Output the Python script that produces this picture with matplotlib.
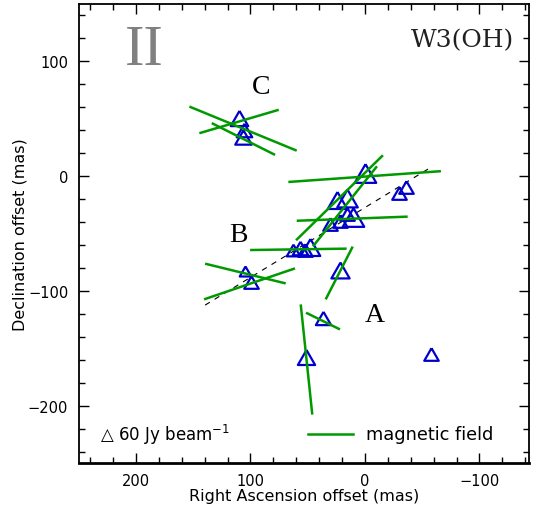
import matplotlib.pyplot as plt
from matplotlib.lines import Line2D

# maser spots: RA offset, Dec offset (mas), peak flux (Jy/beam)
ra = [109.9, 105.6, 106.9,
      0.0, -35.5, -29.7, 24.7, 15.7, 16.0, 10.5, 30.5, 21.8,
      62.8, 56.7, 52.4, 48.0, 104.7, 99.7,
      21.8, 36.9, 51.5, -57.6]
dec = [50.5, 40.1, 34.4,
       3.1, -9.9, -14.9, -21.0, -19.3, -33.2, -35.4, -42.0, -39.1,
       -64.2, -62.9, -64.7, -61.6, -83.0, -92.1,
       -82.1, -123.4, -157.5, -155.4]
flux = [70, 62, 66, 86, 58, 58, 78, 82, 58, 86, 58, 58,
        54, 62, 58, 78, 46, 58, 73, 61, 69, 58]

# magnetic field segments (x1, y1, x2, y2) in mas
bfield = [
    (153.3, 60.6, 59.6, 22.2),
    (144.6, 37.4, 75.3, 57.8),
    (133.8, 46.2, 78.5, 18.5),
    (66.9, -5.1, -66.3, 4.3),
    (59.6, -38.9, -37.3, -35.3),
    (60.2, -55.9, -15.7, 18.2),
    (45.4, -61.2, -10.5, 8.6),
    (100.3, -64.4, 16.0, -63.2),
    (139.6, -76.3, 69.2, -93.5),
    (140.5, -107.4, 61.1, -80.4),
    (34.3, -107.4, 10.7, -61.4),
    (56.1, -111.8, 46.0, -207.8),
    (51.5, -119.0, 21.8, -133.6),
]

# linear fit through the spots
fit_x = [139.6, -57.3]
fit_y = [-112.4, 7.5]

groups = {"A": (-8.5, -120.9), "B": (110.2, -51.1), "C": (90.7, 78.4)}

green = "#009a00"
blue = "#0000cc"

fig = plt.figure(figsize=(5.36, 5.10), dpi=100)
ax = fig.add_axes([0.1468, 0.0902, 0.8396, 0.900])

ax.plot(fit_x, fit_y, color="black", lw=0.8, dashes=(5, 5), zorder=1)

tri = [(0, 0.87), (-1, -0.87), (1, -0.87), (0, 0.87)]
for x, y, f in zip(ra, dec, flux):
    ms = f / 4.0 * 0.72
    ax.plot(x, y, marker=tri, ms=ms, mfc="none", mec=blue, mew=1.6,
            ls="none", zorder=2)

for x1, y1, x2, y2 in bfield:
    ax.plot([x1, x2], [y1, y2], color=green, lw=1.8, zorder=3,
            solid_capstyle="butt")

for name, (x, y) in groups.items():
    ax.text(x, y, name, fontsize=20, family="Liberation Serif",
            ha="center", va="center")

ax.text(193.0, 109.7, "II", fontsize=42, family="Liberation Serif",
        color="#808080", ha="center", va="center")
ax.text(-85.5, 119.0, "W3(OH)", fontsize=18, family="DejaVu Serif",
        color="#202020", ha="center", va="center")

# legend row at the bottom
ax.text(0.047, 0.063, "\u25b3 60 Jy beam$^{-1}$", transform=ax.transAxes,
        fontsize=12, ha="left", va="center")
ax.add_line(Line2D([0.510, 0.610], [0.063, 0.063], transform=ax.transAxes,
                   color=green, lw=1.8))
ax.text(0.638, 0.063, "magnetic field", transform=ax.transAxes,
        fontsize=12.8, ha="left", va="center")

ax.set_xlim(250, -143)
ax.set_ylim(-250, 150)
ax.set_xticks([200, 100, 0, -100])
ax.set_yticks([-200, -100, 0, 100])
ax.set_xticks(range(240, -150, -20), minor=True)
ax.set_yticks(range(-240, 150, 20), minor=True)
ax.tick_params(which="both", direction="in", top=True, right=True,
               labelsize=10.5, width=1)
ax.tick_params(which="major", length=7, pad=7.5)
ax.tick_params(which="minor", length=4)
for s in ax.spines.values():
    s.set_linewidth(1.3)
ax.spines["bottom"].set_linewidth(2)

ax.set_xlabel("Right Ascension offset (mas)", fontsize=11.5, labelpad=0)
ax.set_ylabel("Declination offset (mas)", fontsize=11.5, labelpad=0)

fig.savefig("out.png", dpi=100)
